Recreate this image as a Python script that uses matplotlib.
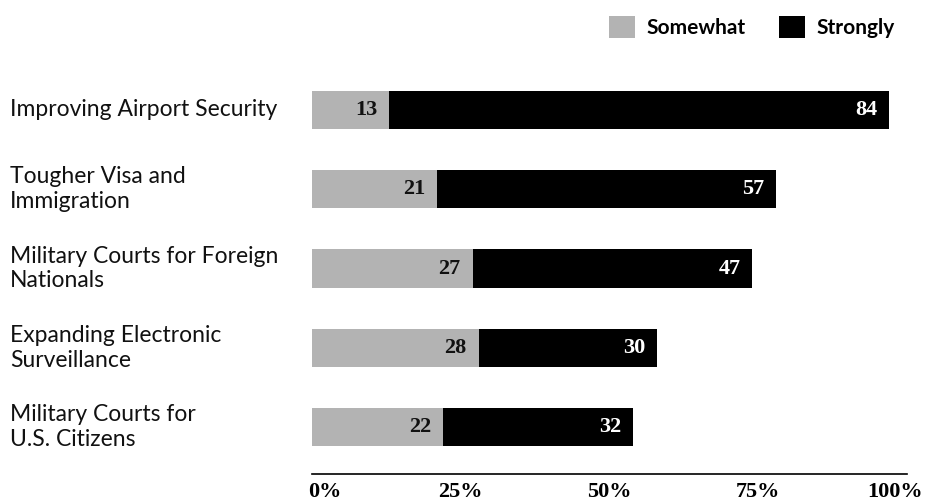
import matplotlib
matplotlib.use("Agg")
import matplotlib.pyplot as plt
import matplotlib.transforms as mtransforms
from matplotlib.patches import Patch

categories = [
    "Improving Airport Security",
    "Tougher Visa and\nImmigration",
    "Military Courts for Foreign\nNationals",
    "Expanding Electronic\nSurveillance",
    "Military Courts for\nU.S. Citizens",
]
somewhat = [13, 21, 27, 28, 22]
strongly = [84, 57, 47, 30, 32]
tick_values = [0, 25, 50, 75, 100]
tick_labels = ["0%", "25%", "50%", "75%", "100%"]

GRAY = "#b3b3b3"
SANS = ["Lato", "DejaVu Sans"]
SERIF = ["Liberation Serif", "DejaVu Serif"]

fig = plt.figure(figsize=(9.4, 5.04), dpi=100)
ax = fig.add_axes([312 / 940, 1 - 474 / 504, (907 - 312) / 940, (474 - 40) / 504])

ypos = list(range(len(categories)))
ax.barh(ypos, somewhat, height=0.48, color=GRAY, edgecolor="none")
ax.barh(ypos, strongly, left=somewhat, height=0.48, color="black", edgecolor="none")

# value labels, right-aligned inside each segment
shift = mtransforms.offset_copy(ax.transData, fig=fig, x=-12, y=0, units="dots")
for y, s, t in zip(ypos, somewhat, strongly):
    ax.text(s, y, str(s), transform=shift, ha="right", va="center",
            family=SERIF, fontweight="bold", fontsize=16, color="#111111")
    ax.text(s + t, y, str(t), transform=shift, ha="right", va="center",
            family=SERIF, fontweight="bold", fontsize=16, color="white")

# category labels at the left edge of the figure
lab_tr = mtransforms.blended_transform_factory(fig.transFigure, ax.transData)
for y, cat in zip(ypos, categories):
    ax.text(10 / 940, y, cat, transform=lab_tr, ha="left", va="center",
            family=SANS, fontsize=16.5, color="#111111", linespacing=1.2)

ax.set_xlim(0, 100)
ax.set_ylim(4.59, -0.88)
ax.set_yticks([])
ax.set_xticks(tick_values)
ax.set_xticklabels(tick_labels, family=SERIF, fontweight="bold", fontsize=16)
ax.tick_params(axis="x", length=0, pad=6)
labels = ax.get_xticklabels()
labels[0].set_horizontalalignment("left")
labels[0].set_transform(labels[0].get_transform()
                        + mtransforms.ScaledTranslation(-4 / 100, 0, fig.dpi_scale_trans))
labels[-1].set_horizontalalignment("right")
labels[-1].set_transform(labels[-1].get_transform()
                         + mtransforms.ScaledTranslation(16 / 100, 0, fig.dpi_scale_trans))
for side in ["top", "right", "left"]:
    ax.spines[side].set_visible(False)
ax.spines["bottom"].set_linewidth(1.2)

handles = [Patch(facecolor=GRAY, label="Somewhat"), Patch(facecolor="black", label="Strongly")]
fig.legend(handles=handles, loc="upper right", bbox_to_anchor=(905 / 940, 1 - 6 / 504),
           ncol=2, frameon=False, handlelength=1.25, handleheight=1.25, borderpad=0,
           handletextpad=0.55, columnspacing=1.6,
           prop={"family": SANS, "weight": "bold", "size": 15})

fig.savefig("out.png", dpi=100)
